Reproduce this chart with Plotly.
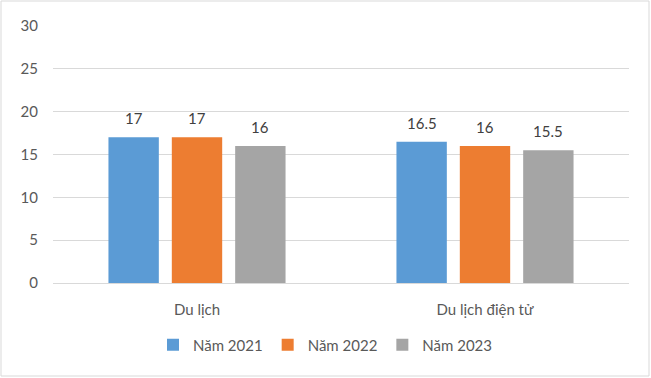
import plotly.graph_objects as go

categories = ["Du lịch", "Du lịch điện tử"]
series_names = ["Năm 2021", "Năm 2022", "Năm 2023"]
values_2021 = [17, 16.5]
values_2022 = [17, 16]
values_2023 = [16, 15.5]
colors = ["#5B9BD5", "#ED7D31", "#A5A5A5"]
y_ticks = [0, 5, 10, 15, 20, 25, 30]

W, H = 651, 378
ML, MR, MT, MB = 53, 22, 26, 95
plot_w = W - ML - MR
plot_h = H - MT - MB
BARGAP = 0.34
BARGROUPGAP = 0.205

FONT = "Lato"
TXT = "#595959"

fig = go.Figure()
all_vals = [values_2021, values_2022, values_2023]
for name, vals, col in zip(series_names, all_vals, colors):
    fig.add_trace(go.Bar(x=categories, y=vals, name=name, marker_color=col,
                         marker_line_width=0))

# data labels
slot_px = plot_w / len(categories) * (1 - BARGAP) / len(series_names)
annotations = []
for i, vals in enumerate(all_vals):
    for c, v in zip(categories, vals):
        annotations.append(dict(x=c, y=v, text=f"{v:g}", showarrow=False,
                                xshift=(i - 1) * slot_px, yshift=19,
                                yanchor="middle",
                                font=dict(family=FONT, size=15, color="#404040")))

fig.update_layout(
    width=W, height=H,
    margin=dict(l=ML, r=MR, t=MT, b=MB, autoexpand=False),
    paper_bgcolor="white", plot_bgcolor="white",
    barmode="group", bargap=BARGAP, bargroupgap=BARGROUPGAP,
    font=dict(family=FONT, size=15, color=TXT),
    annotations=annotations,
    legend=dict(orientation="h", xref="container", yref="container",
                x=0.5, xanchor="center", y=1 - 345 / H, yanchor="middle",
                font=dict(family=FONT, size=15, color=TXT),
                traceorder="normal", entrywidth=0),
    showlegend=True,
    shapes=[dict(type="rect", xref="paper", yref="paper",
                 x0=-(ML - 1) / plot_w, x1=1 + (649 - (W - MR)) / plot_w,
                 y0=-(376 - (H - MB)) / plot_h, y1=1 + (MT - 1) / plot_h,
                 line=dict(color="#D9D9D9", width=1), layer="below")],
)

fig.update_yaxes(range=[0, 30], tickvals=y_ticks, showgrid=True,
                 gridcolor="#D9D9D9", gridwidth=1, zeroline=True,
                 zerolinecolor="#D9D9D9", zerolinewidth=1, showline=False,
                 ticks="", ticklabelstandoff=14, automargin=False,
                 tickfont=dict(family=FONT, size=15, color=TXT), fixedrange=True)
fig.update_xaxes(showline=False, ticks="", ticklabelstandoff=16, tickangle=0,
                 automargin=False,
                 tickfont=dict(family=FONT, size=15, color=TXT), fixedrange=True)

fig.write_html("out.html", config={"displayModeBar": False},
               post_script="document.body.style.margin='0';document.body.style.overflow='hidden';")
